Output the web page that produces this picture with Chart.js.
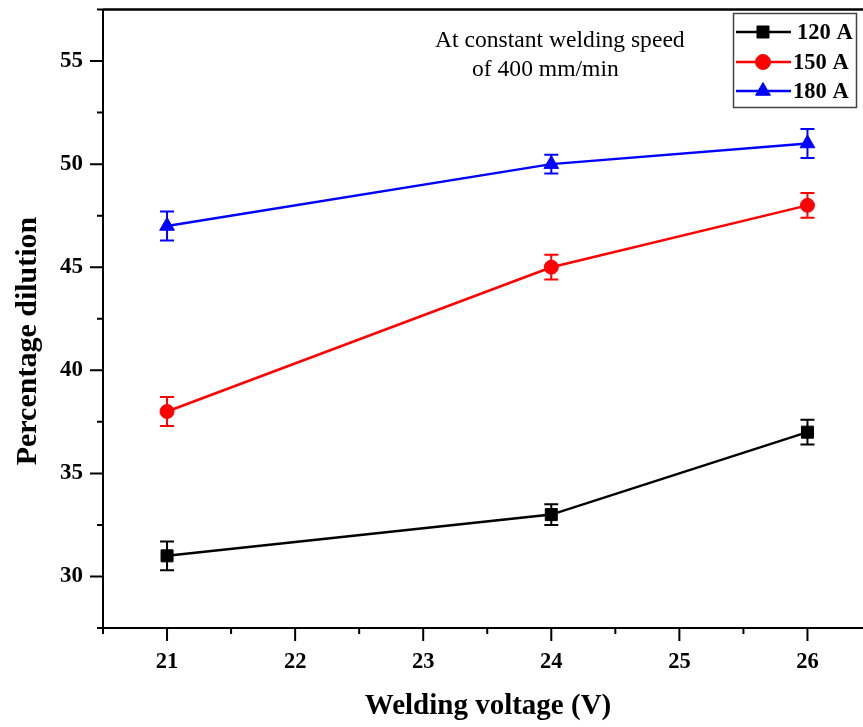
<!DOCTYPE html>
<html><head><meta charset="utf-8">
<script src="https://cdn.jsdelivr.net/npm/chart.js@4.4.1/dist/chart.umd.min.js"></script>
<style>html,body{margin:0;padding:0;background:#fff;overflow:hidden;width:863px;height:727px}canvas{display:block}</style>
</head><body><canvas id="c" width="881" height="727" style="width:881px;height:727px"></canvas>
<script>
const voltages = [21, 24, 26];
const dil120 = [31, 33, 37];
const err120 = [0.7, 0.5, 0.6];
const dil150 = [38, 45, 48];
const err150 = [0.7, 0.6, 0.6];
const dil180 = [47, 50, 51];
const err180 = [0.7, 0.45, 0.7];
const seriesLabels = ['120 A', '150 A', '180 A'];
const xMajorTicks = [21, 22, 23, 24, 25, 26];
const xMinorTicks = [20.5, 21.5, 22.5, 23.5, 24.5, 25.5, 26.5];
const yMajorTicks = [30, 35, 40, 45, 50, 55];
const yMinorTicks = [27.5, 32.5, 37.5, 42.5, 47.5, 52.5, 57.5];
const xTitle = 'Welding voltage (V)';
const yTitle = 'Percentage dilution';
const noteLines = ['At constant welding speed', 'of 400 mm/min'];

const SERIF = '"Liberation Serif", "Times New Roman", serif';
const errs = [err120, err150, err180];

function mk(vals) { return voltages.map((v, i) => ({x: v, y: vals[i]})); }

const datasets = [
  {label: seriesLabels[0], data: mk(dil120), borderColor: '#000', backgroundColor: '#000', pointStyle: 'rect', pointRadius: 8.5},
  {label: seriesLabels[1], data: mk(dil150), borderColor: '#ff0000', backgroundColor: '#ff0000', pointStyle: 'circle', pointRadius: 7},
  {label: seriesLabels[2], data: mk(dil180), borderColor: '#0000ff', backgroundColor: '#0000ff', pointStyle: 'triangle', pointRadius: 8.5}
].map(d => Object.assign(d, {borderWidth: 2.5, pointBorderWidth: 1, pointHoverRadius: d.pointRadius, tension: 0, fill: false}));

const framePlugin = {
  id: 'frame',
  beforeDatasetsDraw(chart) {
    const ctx = chart.ctx, a = chart.chartArea;
    const xs = chart.scales.x, ys = chart.scales.y;
    ctx.save();
    ctx.strokeStyle = '#000';
    ctx.lineCap = 'butt';
    ctx.lineWidth = 2;
    ctx.beginPath();
    ctx.moveTo(a.left, a.top); ctx.lineTo(a.left, a.bottom);
    ctx.moveTo(a.left, a.bottom); ctx.lineTo(a.right, a.bottom);
    ctx.stroke();
    ctx.lineWidth = 2.5;
    ctx.beginPath();
    ctx.moveTo(a.left, a.top); ctx.lineTo(a.right, a.top);
    ctx.stroke();
    ctx.lineWidth = 2;
    ctx.beginPath();
    yMajorTicks.forEach(v => { const y = ys.getPixelForValue(v); ctx.moveTo(a.left - 13, y); ctx.lineTo(a.left, y); });
    yMinorTicks.forEach(v => { const y = ys.getPixelForValue(v); ctx.moveTo(a.left - 6, y); ctx.lineTo(a.left, y); });
    xMajorTicks.forEach(v => { const x = xs.getPixelForValue(v); ctx.moveTo(x, a.bottom); ctx.lineTo(x, a.bottom + 13); });
    xMinorTicks.forEach(v => { const x = xs.getPixelForValue(v); ctx.moveTo(x, a.bottom); ctx.lineTo(x, a.bottom + 6); });
    ctx.stroke();
    chart.data.datasets.forEach((ds, i) => {
      ctx.strokeStyle = ds.borderColor;
      ctx.lineWidth = 2;
      ctx.beginPath();
      ds.data.forEach((p, j) => {
        const x = xs.getPixelForValue(p.x);
        const yt = ys.getPixelForValue(p.y + errs[i][j]);
        const yb = ys.getPixelForValue(p.y - errs[i][j]);
        ctx.moveTo(x, yt); ctx.lineTo(x, yb);
        ctx.moveTo(x - 7, yt); ctx.lineTo(x + 7, yt);
        ctx.moveTo(x - 7, yb); ctx.lineTo(x + 7, yb);
      });
      ctx.stroke();
    });
    ctx.restore();
  },
  afterDraw(chart) {
    const ctx = chart.ctx;
    ctx.save();
    ctx.fillStyle = '#000';
    ctx.font = 'bold 29px ' + SERIF;
    ctx.textAlign = 'center';
    ctx.textBaseline = 'middle';
    ctx.fillText(xTitle, 488, 707);
    ctx.save();
    ctx.translate(28, 341);
    ctx.rotate(-Math.PI / 2);
    ctx.font = 'bold 30px ' + SERIF;
    ctx.fillText(yTitle, 0, 0);
    ctx.restore();
    ctx.font = '23.6px ' + SERIF;
    ctx.textAlign = 'left';
    ctx.textBaseline = 'alphabetic';
    ctx.fillText(noteLines[0], 435, 47);
    ctx.fillText(noteLines[1], 472, 76);
    ctx.fillStyle = '#fff';
    ctx.fillRect(733, 13, 124, 95);
    ctx.strokeStyle = '#444';
    ctx.lineWidth = 1.5;
    ctx.strokeRect(733.5, 13.5, 123, 94);
    const rows = [32, 62, 91];
    chart.data.datasets.forEach((ds, i) => {
      const y = rows[i];
      ctx.strokeStyle = ds.borderColor;
      ctx.lineWidth = 2.5;
      ctx.beginPath(); ctx.moveTo(736, y); ctx.lineTo(791, y); ctx.stroke();
      ctx.fillStyle = ds.backgroundColor;
      ctx.lineWidth = 1;
      Chart.helpers.drawPoint(ctx, {pointStyle: ds.pointStyle, radius: ds.pointStyle === 'circle' ? 7.5 : 8.5, borderWidth: 1, rotation: 0}, 763, y);
      ctx.fillStyle = '#000';
      ctx.font = 'bold 22.5px ' + SERIF;
      ctx.textBaseline = 'middle';
      ctx.textAlign = 'left';
      ctx.fillText(ds.label, i === 0 ? 797 : 793, y + 1);
    });
    ctx.restore();
  }
};

new Chart(document.getElementById('c'), {
  type: 'line',
  data: {datasets},
  options: {
    responsive: false,
    animation: false,
    events: [],
    devicePixelRatio: 1,
    layout: {padding: {top: 8, right: 9, left: 0, bottom: 0}},
    plugins: {legend: {display: false}, tooltip: {enabled: false}},
    scales: {
      x: {
        type: 'linear', min: 20.5, max: 26.5,
        afterBuildTicks: s => { s.ticks = xMajorTicks.map(v => ({value: v})); },
        afterFit: s => { s.height = 99; s.paddingLeft = 0; s.paddingRight = 0; },
        grid: {display: false, drawTicks: false},
        border: {display: false},
        ticks: {color: '#000', font: {family: SERIF, size: 22.5, weight: 'bold'}, padding: 21, maxRotation: 0, autoSkip: false}
      },
      y: {
        type: 'linear', min: 27.5, max: 57.5,
        afterBuildTicks: s => { s.ticks = yMajorTicks.map(v => ({value: v})); },
        afterFit: s => { s.width = 103; s.paddingTop = 0; s.paddingBottom = 0; },
        grid: {display: false, drawTicks: false},
        border: {display: false},
        ticks: {color: '#000', font: {family: SERIF, size: 23, weight: 'bold'}, padding: 20}
      }
    }
  },
  plugins: [framePlugin]
});
</script>
</body></html>
